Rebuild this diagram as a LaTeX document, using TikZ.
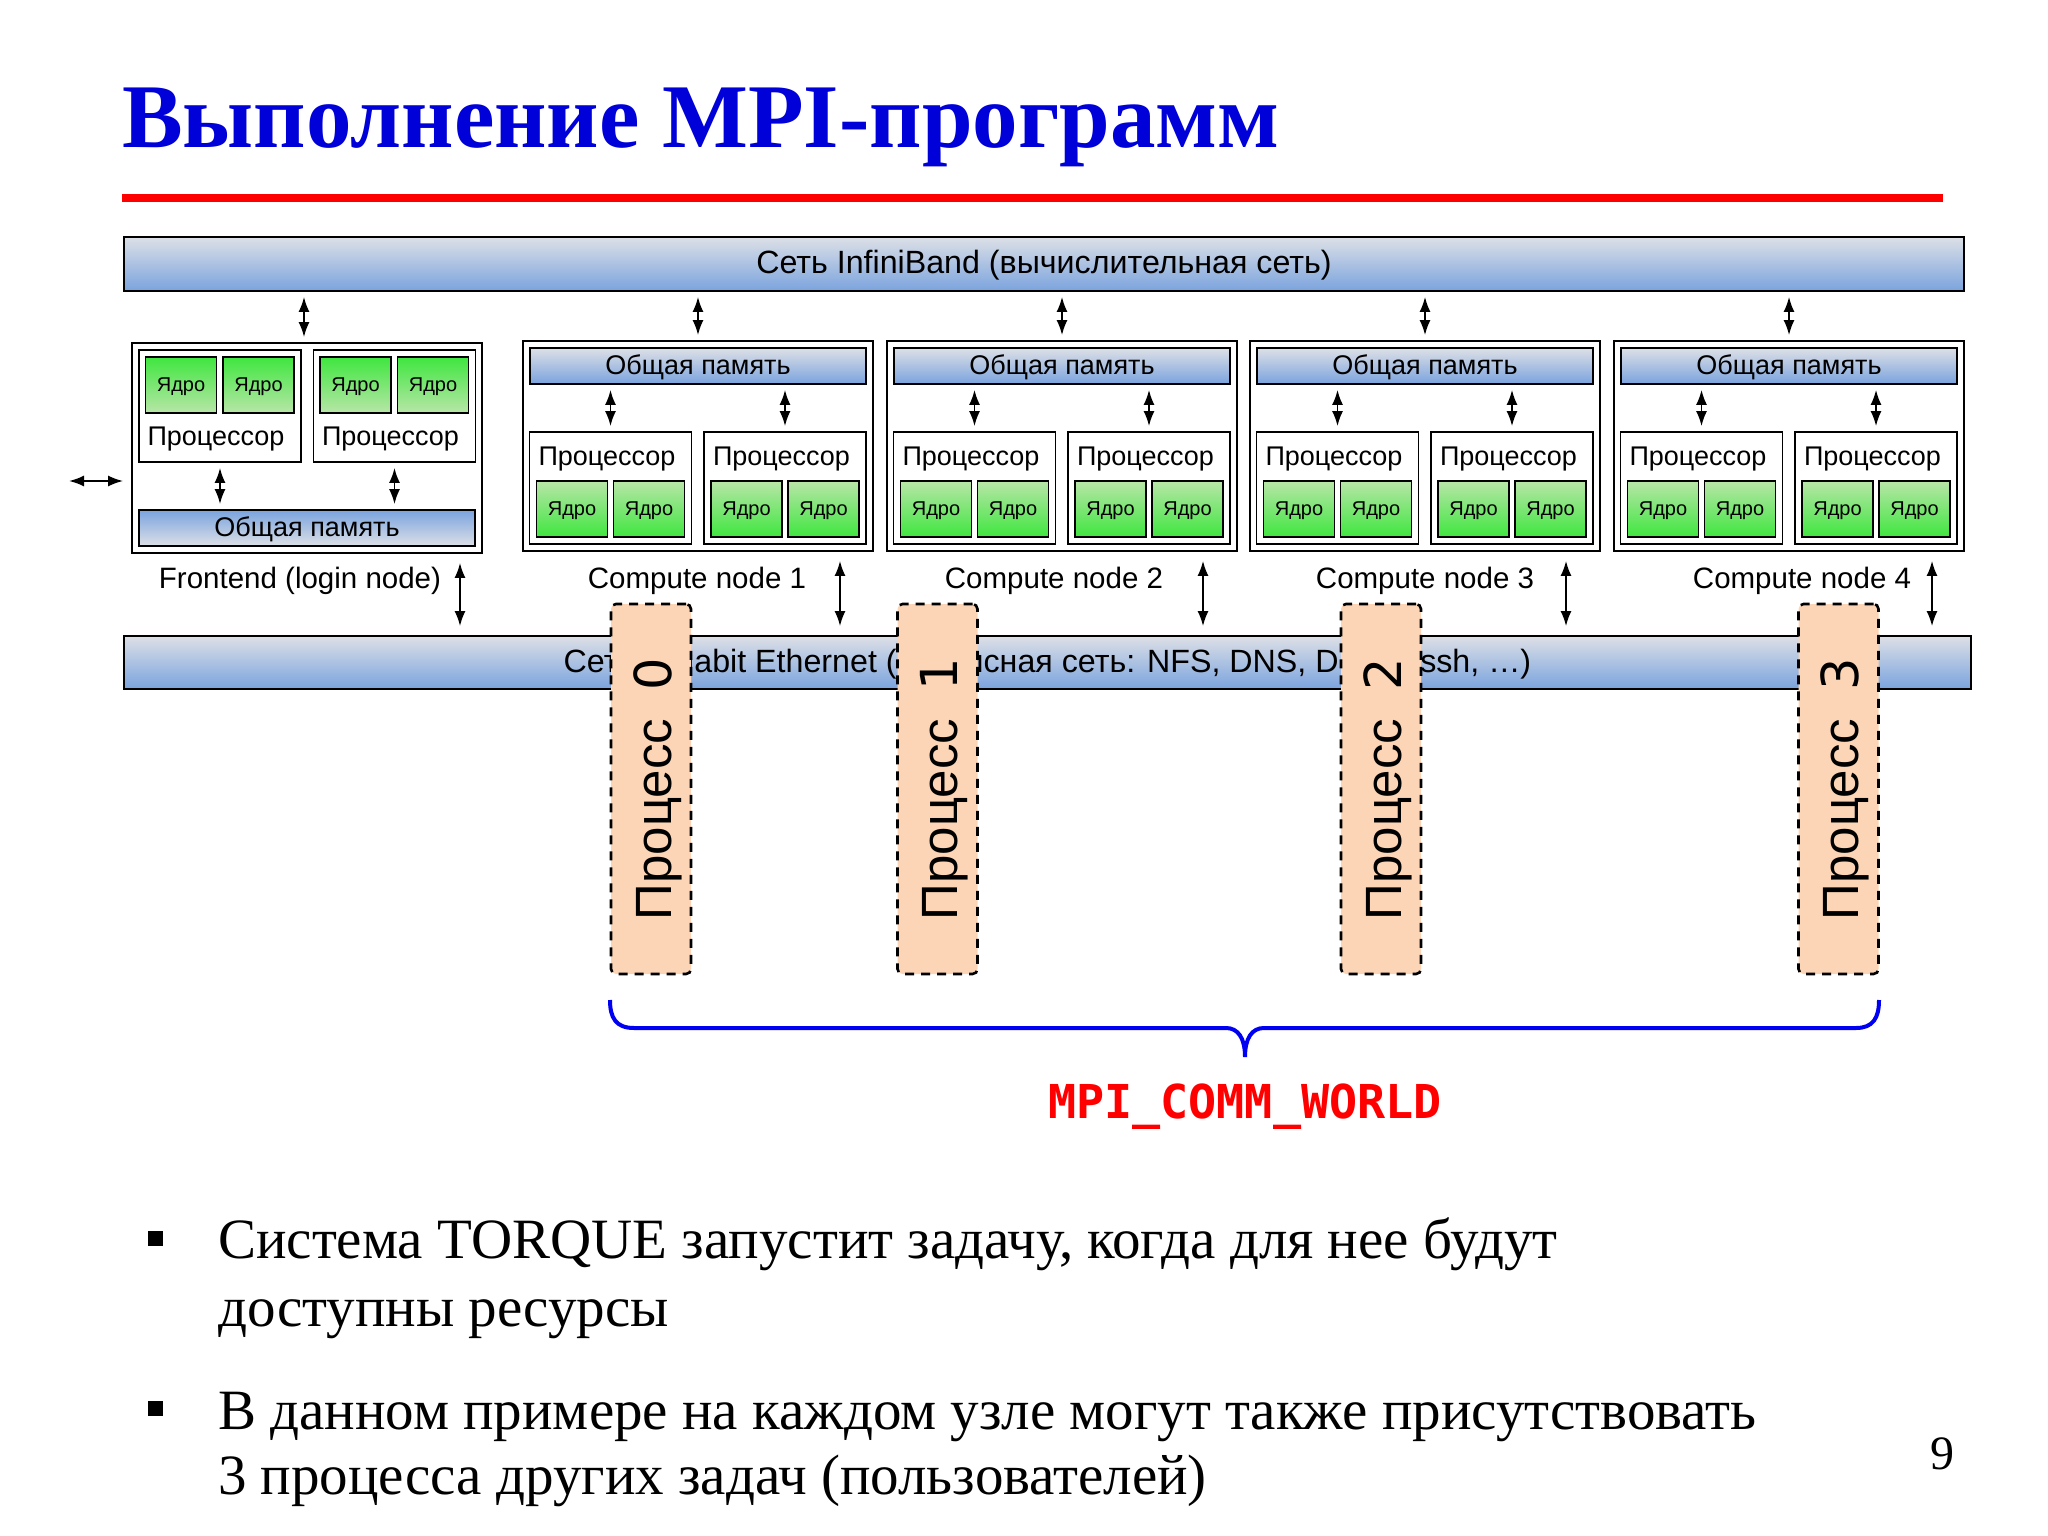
\documentclass[tikz,border=0pt]{standalone}
\usepackage{fontspec}
\setmainfont{Liberation Sans}
\newfontfamily\slidefont{Liberation Serif}
\newfontfamily\digitfont{DejaVu Sans}
\newfontfamily\worldfont{DejaVu Sans Mono}
\usetikzlibrary{arrows.meta}
\definecolor{netlight}{HTML}{DDE0E6}
\definecolor{netblue}{HTML}{7AA3DE}
\definecolor{corevivid}{HTML}{3FE63F}
\definecolor{corepale}{HTML}{B8E6A8}
\definecolor{procpeach}{HTML}{FBD5B5}
\tikzset{link/.style={{Latex[length=15pt,width=11pt]}-{Latex[length=15pt,width=11pt]}, line width=1.8pt, shorten <=5pt, shorten >=5pt},
	longlink/.style={link, shorten <=9pt, shorten >=9pt}
}
\tikzstyle{net_bar} = [draw, line width=1.8pt, inner sep=0pt, minimum height=54pt, top color=netlight, bottom color=netblue, text height=26pt, text depth=7pt, font=\fontsize{32.2}{34}\selectfont]
\tikzstyle{host_box} = [draw, line width=1.8pt, inner sep=0pt, minimum width=350pt, minimum height=210pt]
\tikzstyle{mem_bar} = [draw, line width=1.8pt, inner sep=0pt, minimum width=336pt, minimum height=36pt, top color=netlight, bottom color=netblue, text height=23pt, text depth=6pt, font=\fontsize{27}{29}\selectfont]
\tikzstyle{mem_bar_low} = [mem_bar, top color=netblue, bottom color=netlight]
\tikzstyle{cpu_box} = [draw, line width=1.8pt, inner sep=0pt, minimum width=162pt, minimum height=112pt]
\tikzstyle{cpu_text} = [inner sep=0pt, text height=23pt, text depth=6pt, font=\fontsize{27}{29}\selectfont]
\tikzstyle{core_box} = [draw, line width=1.8pt, inner sep=0pt, minimum width=71pt, minimum height=56pt, top color=corepale, bottom color=corevivid, text height=17pt, text depth=4pt, font=\fontsize{20}{22}\selectfont]
\tikzstyle{core_box_low} = [core_box, top color=corevivid, bottom color=corepale]
\tikzstyle{host_label} = [inner sep=0pt, text height=24pt, text depth=6pt, font=\fontsize{29.5}{31}\selectfont]
\tikzstyle{rank_box} = [draw, dashed, dash pattern=on 9pt off 7pt, line width=2.6pt, rounded corners=5pt, fill=procpeach, minimum width=80pt, minimum height=370pt, inner sep=0pt]
\tikzstyle{rank_text} = [rotate=90, anchor=base, inner sep=0pt, font=\fontsize{51}{53}\selectfont]
\tikzstyle{body_line} = [anchor=base west, inner sep=0pt, font=\slidefont\fontsize{57}{59}\selectfont]
\tikzstyle{bullet_mark} = [fill=black, inner sep=0pt, minimum size=15pt]
\begin{document}
\begin{tikzpicture}[x=1pt, y=-1pt, node distance=40pt]
	\useasboundingbox (0,0) rectangle (2048,1536);
	\node[anchor=base west, inner sep=0pt, text=blue!85!black, font=\slidefont\bfseries\fontsize{91}{93}\selectfont](title) at (122,148) {Выполнение MPI-программ};
	\coordinate (rulel) at (122,198);
	\coordinate (ruler) at (1943,198);
	\draw[red, line width=8pt] (rulel) -- (ruler);

	\node[net_bar, minimum width=1840pt](ib) at (1044,264) {Сеть InfiniBand (вычислительная сеть)};
	\node[net_bar, minimum width=1847pt, minimum height=53pt](eth) at (1047.5,662.5) {Сеть Gigabit Ethernet (сервисная сеть: NFS, DNS, DHCP, ssh, …)};

	% frontend
	\node[host_box](fe) at (307,448) {};
	\node[mem_bar_low, below of=fe, yshift=-40pt](fem) {Общая память};
	\node[cpu_box, above of=fe, yshift=2pt, xshift=-87pt](fep1) {};
	\node[cpu_box, above of=fe, yshift=2pt, xshift=87.5pt](fep2) {};
	\node[cpu_text, below of=fep1, yshift=9pt, xshift=-4pt](fet1) {Процессор};
	\node[cpu_text, below of=fep2, yshift=9pt, xshift=-4pt](fet2) {Процессор};
	\node[core_box_low, above of=fep1, yshift=-19pt, xshift=-39pt](fec1) {Ядро};
	\node[core_box_low, above of=fep1, yshift=-19pt, xshift=38.5pt](fec2) {Ядро};
	\node[core_box_low, above of=fep2, yshift=-19pt, xshift=-39pt](fec3) {Ядро};
	\node[core_box_low, above of=fep2, yshift=-19pt, xshift=38.5pt](fec4) {Ядро};
	\node[host_label, below of=fe, yshift=-91pt, xshift=-7pt](fel) {Frontend (login node)};
	\coordinate[above of=fe, xshift=-3pt] (fei);
	\coordinate[right of=fe, xshift=113pt] (fee);
	\coordinate (ext) at (69,481);

	% compute node 1
	\node[host_box, right of=fe, xshift=351pt, yshift=2pt](cn1) {};
	\node[mem_bar, above of=cn1, yshift=40pt](mem1) {Общая память};
	\node[cpu_box, below of=cn1, yshift=-2pt, xshift=-87.5pt](p11) {};
	\node[cpu_box, below of=cn1, yshift=-2pt, xshift=87pt](p12) {};
	\node[cpu_text, above of=p11, yshift=-9pt, xshift=-3.5pt](t11) {Процессор};
	\node[cpu_text, above of=p12, yshift=-9pt, xshift=-3.5pt](t12) {Процессор};
	\node[core_box, below of=p11, yshift=19pt, xshift=-38.5pt](c11) {Ядро};
	\node[core_box, below of=p11, yshift=19pt, xshift=38.5pt](c12) {Ядро};
	\node[core_box, below of=p12, yshift=19pt, xshift=-38.5pt](c13) {Ядро};
	\node[core_box, below of=p12, yshift=19pt, xshift=38.5pt](c14) {Ядро};
	\node[host_label, below of=cn1, yshift=-93pt, xshift=-1pt](lab1) {Compute node 1};
	\coordinate[right of=cn1, xshift=102pt] (e1);

	% compute node 2
	\node[host_box, right of=cn1, xshift=324pt](cn2) {};
	\node[mem_bar, above of=cn2, yshift=40pt](mem2) {Общая память};
	\node[cpu_box, below of=cn2, yshift=-2pt, xshift=-87.5pt](p21) {};
	\node[cpu_box, below of=cn2, yshift=-2pt, xshift=87pt](p22) {};
	\node[cpu_text, above of=p21, yshift=-9pt, xshift=-3.5pt](t21) {Процессор};
	\node[cpu_text, above of=p22, yshift=-9pt, xshift=-3.5pt](t22) {Процессор};
	\node[core_box, below of=p21, yshift=19pt, xshift=-38.5pt](c21) {Ядро};
	\node[core_box, below of=p21, yshift=19pt, xshift=38.5pt](c22) {Ядро};
	\node[core_box, below of=p22, yshift=19pt, xshift=-38.5pt](c23) {Ядро};
	\node[core_box, below of=p22, yshift=19pt, xshift=38.5pt](c24) {Ядро};
	\node[host_label, below of=cn2, yshift=-93pt, xshift=-8pt](lab2) {Compute node 2};
	\coordinate[right of=cn2, xshift=101pt] (e2);

	% compute node 3
	\node[host_box, right of=cn2, xshift=323pt](cn3) {};
	\node[mem_bar, above of=cn3, yshift=40pt](mem3) {Общая память};
	\node[cpu_box, below of=cn3, yshift=-2pt, xshift=-87.5pt](p31) {};
	\node[cpu_box, below of=cn3, yshift=-2pt, xshift=87pt](p32) {};
	\node[cpu_text, above of=p31, yshift=-9pt, xshift=-3.5pt](t31) {Процессор};
	\node[cpu_text, above of=p32, yshift=-9pt, xshift=-3.5pt](t32) {Процессор};
	\node[core_box, below of=p31, yshift=19pt, xshift=-38.5pt](c31) {Ядро};
	\node[core_box, below of=p31, yshift=19pt, xshift=38.5pt](c32) {Ядро};
	\node[core_box, below of=p32, yshift=19pt, xshift=-38.5pt](c33) {Ядро};
	\node[core_box, below of=p32, yshift=19pt, xshift=38.5pt](c34) {Ядро};
	\node[host_label, below of=cn3, yshift=-93pt](lab3) {Compute node 3};
	\coordinate[right of=cn3, xshift=101pt] (e3);

	% compute node 4
	\node[host_box, right of=cn3, xshift=324pt](cn4) {};
	\node[mem_bar, above of=cn4, yshift=40pt](mem4) {Общая память};
	\node[cpu_box, below of=cn4, yshift=-2pt, xshift=-87.5pt](p41) {};
	\node[cpu_box, below of=cn4, yshift=-2pt, xshift=87pt](p42) {};
	\node[cpu_text, above of=p41, yshift=-9pt, xshift=-3.5pt](t41) {Процессор};
	\node[cpu_text, above of=p42, yshift=-9pt, xshift=-3.5pt](t42) {Процессор};
	\node[core_box, below of=p41, yshift=19pt, xshift=-38.5pt](c41) {Ядро};
	\node[core_box, below of=p41, yshift=19pt, xshift=38.5pt](c42) {Ядро};
	\node[core_box, below of=p42, yshift=19pt, xshift=-38.5pt](c43) {Ядро};
	\node[core_box, below of=p42, yshift=19pt, xshift=38.5pt](c44) {Ядро};
	\node[host_label, below of=cn4, yshift=-93pt, xshift=13pt](lab4) {Compute node 4};
	\coordinate[right of=cn4, xshift=103pt] (e4);

	% draw lines
	\draw[link] (ib.south -| fei) -- (fe.north -| fei);
	\draw[link] (fep1.south) -- (fem.north -| fep1);
	\draw[link] (fep2.south) -- (fem.north -| fep2);
	\draw[longlink] (fe.south -| fee) -- (eth.north -| fee);
	\draw[link, shorten <=0pt, shorten >=0pt] (ext) -- (ext -| eth.west);
	\draw[link] (ib.south -| cn1) -- (cn1.north);
	\draw[link] (mem1.south -| p11) -- (p11.north);
	\draw[link] (mem1.south -| p12) -- (p12.north);
	\draw[longlink] (cn1.south -| e1) -- (eth.north -| e1);
	\draw[link] (ib.south -| cn2) -- (cn2.north);
	\draw[link] (mem2.south -| p21) -- (p21.north);
	\draw[link] (mem2.south -| p22) -- (p22.north);
	\draw[longlink] (cn2.south -| e2) -- (eth.north -| e2);
	\draw[link] (ib.south -| cn3) -- (cn3.north);
	\draw[link] (mem3.south -| p31) -- (p31.north);
	\draw[link] (mem3.south -| p32) -- (p32.north);
	\draw[longlink] (cn3.south -| e3) -- (eth.north -| e3);
	\draw[link] (ib.south -| cn4) -- (cn4.north);
	\draw[link] (mem4.south -| p41) -- (p41.north);
	\draw[link] (mem4.south -| p42) -- (p42.north);
	\draw[longlink] (cn4.south -| e4) -- (eth.north -| e4);

	% processes
	\node[rank_box](r0) at (651,789) {};
	\node[rank_box, right of=r0, xshift=246.5pt](r1) {};
	\node[rank_box, right of=r1, xshift=403.5pt](r2) {};
	\node[rank_box, right of=r2, xshift=417.5pt](r3) {};
	\node[right of=r0, xshift=-20pt, rank_text](rt0) {Процесс\ \ {\digitfont 0}};
	\node[right of=r1, xshift=-20pt, rank_text](rt1) {Процесс\ \ {\digitfont 1}};
	\node[right of=r2, xshift=-20pt, rank_text](rt2) {Процесс\ \ {\digitfont 2}};
	\node[right of=r3, xshift=-20pt, rank_text](rt3) {Процесс\ \ {\digitfont 3}};
	\draw[blue!95!black, line width=4pt] (610,1000) .. controls (610,1018) and (616,1028) .. (634,1028) -- (1226,1028) .. controls (1238,1028) and (1245,1038) .. (1245,1057) .. controls (1245,1038) and (1252,1028) .. (1264,1028) -- (1856,1028) .. controls (1873,1028) and (1879,1018) .. (1879,1000);
	\node[text=red, inner sep=0pt, font=\worldfont\bfseries\fontsize{46.7}{49}\selectfont](world) at (1245,1107) {MPI\_COMM\_WORLD};

	% text below
	\node[bullet_mark](b1) at (155,1238) {};
	\node[body_line](l1) at (218,1258) {Система TORQUE запустит задачу, когда для нее будут};
	\node[body_line](l2) at (218,1326) {доступны ресурсы};
	\node[bullet_mark](b2) at (155,1408) {};
	\node[body_line](l3) at (218,1429) {В данном примере на каждом узле могут также присутствовать};
	\node[body_line](l4) at (218,1494) {3 процесса других задач (пользователей)};
	\node[inner sep=0pt, font=\slidefont\fontsize{48}{50}\selectfont](page) at (1942,1454) {9};
\end{tikzpicture}
\end{document}
